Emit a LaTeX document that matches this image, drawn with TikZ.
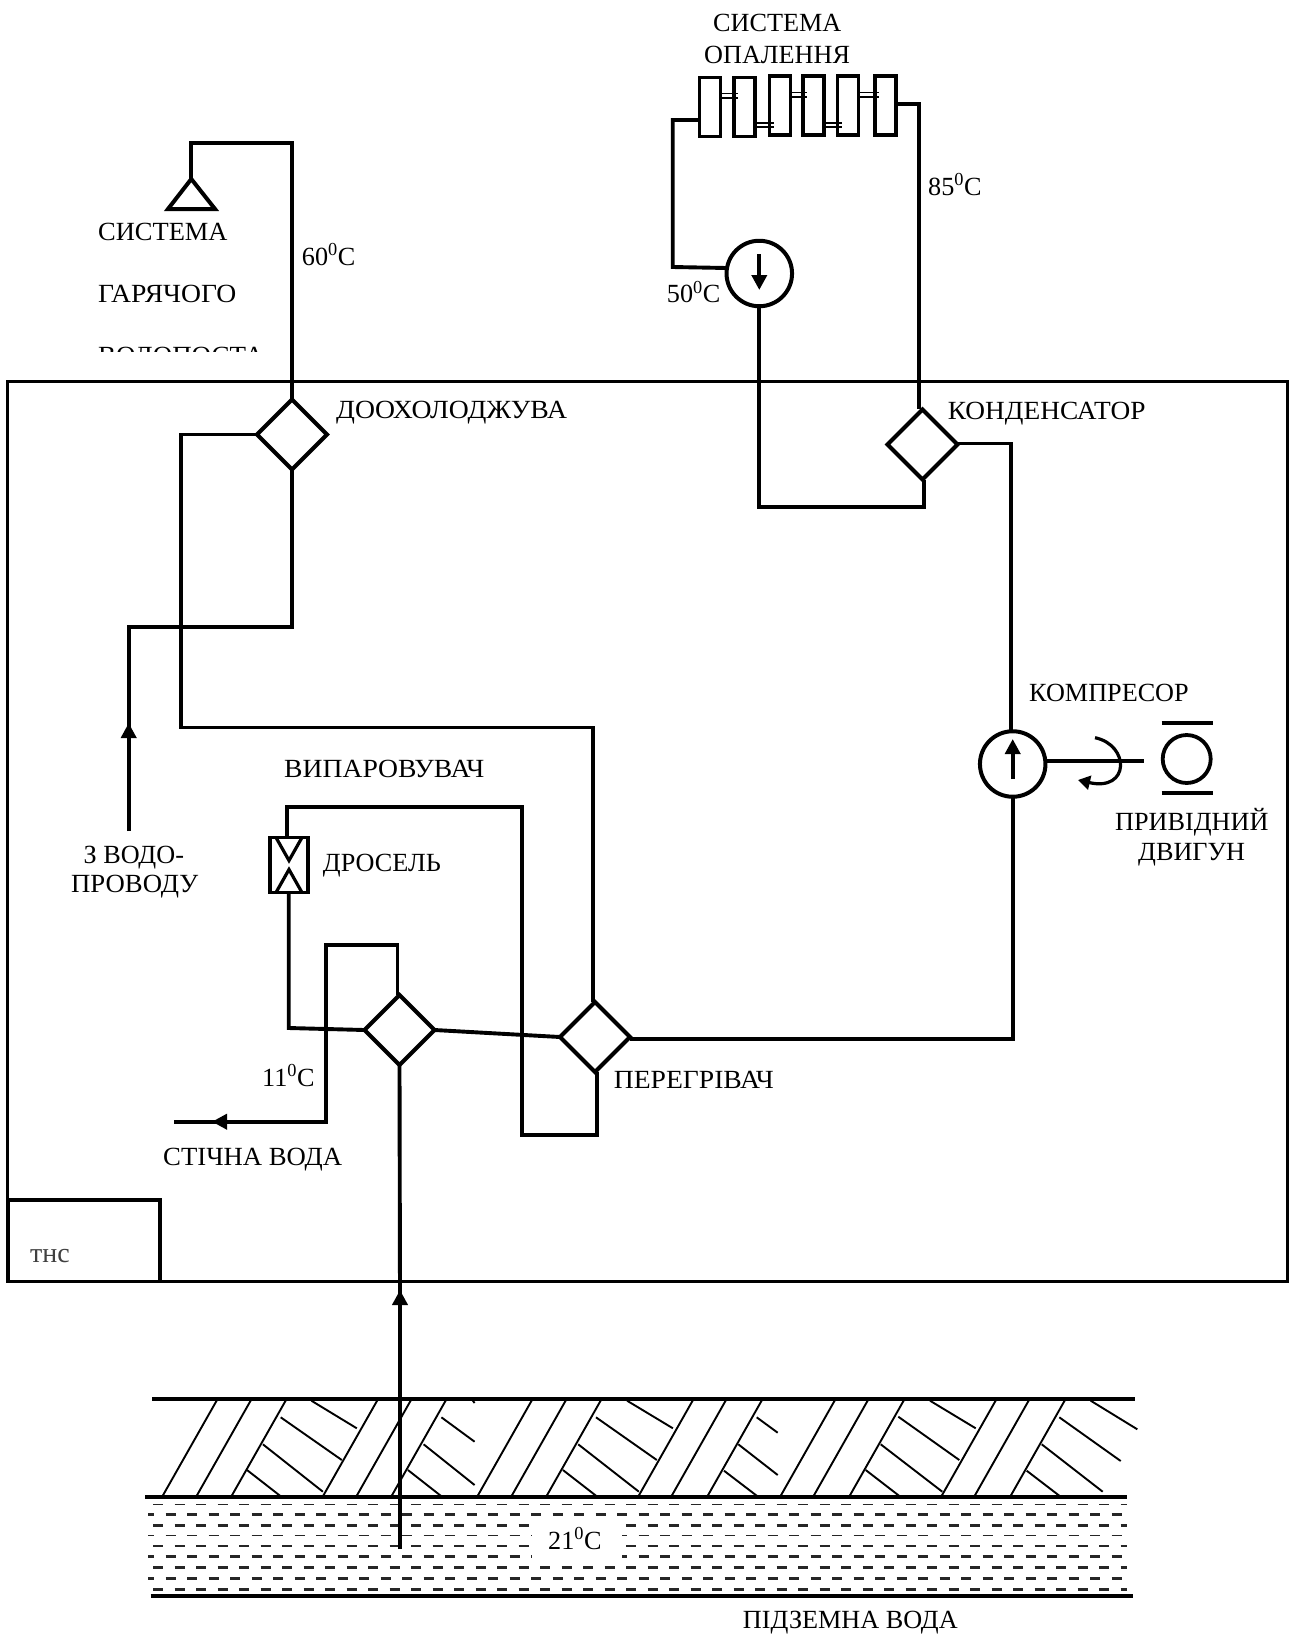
\documentclass[tikz,border=0pt]{standalone}
\usepackage{graphicx}
\usepackage{fontspec}
\setmainfont{Liberation Serif}
\usepackage{tikz}
\usetikzlibrary{shapes.geometric,arrows.meta,calc}

\newcommand{\widen}[2]{\scalebox{#1}[1]{#2}}

\begin{document}
\begin{tikzpicture}[
    x=1pt, y=-1pt,
    every node/.style={font=\fontsize{26.2}{30}\selectfont},
    lbl/.style={inner sep=0pt, anchor=base west},
    pipe/.style={line width=3.9pt},
    thinpipe/.style={line width=3.2pt},
    arr/.style={line width=3.9pt, -{Triangle[length=15pt,width=15pt]}},
    hx/.style={draw, diamond, line width=4.2pt, minimum width=70pt,
               minimum height=70pt, inner sep=0pt, outer sep=0pt},
    pump/.style={draw, circle, line width=4pt, minimum size=65.5pt,
                 inner sep=0pt, outer sep=0pt},
    radbox/.style={draw, line width=3.9pt, minimum width=21pt,
                   minimum height=59pt, inner sep=0pt, outer sep=0pt},
    tie/.style={line width=1.6pt, shorten >=-4pt},
    hatchline/.style={line width=1.9pt},
  ]
  \useasboundingbox (0,0) rectangle (1292,1636);

  % Frame
  \node[draw, line width=3pt, inner sep=0pt, outer sep=0pt, minimum width=1280pt,
        minimum height=900pt] (frame) at (647.8,831.5) {};
  \node[draw, line width=3.6pt, inner sep=0pt, outer sep=0pt, minimum width=152pt,
        minimum height=81.5pt] (thsbox) at (84,1240.8) {};
  \node[lbl, font=\fontsize{28}{30}\selectfont, text=black!75] (ths) at (30,1262.7) {тнс};

  % Radiators
  \foreach \i/\x/\y in {1/710/107, 2/744.3/107, 3/780/105.5, 4/813.3/105.5,
                        5/848/105.5, 6/885.5/105.5} {
    \node[radbox] (r\i) at (\x,\y) {};
  }
  \foreach \a/\b/\y in {1/2/95.5, 2/3/125, 3/4/94.5, 4/5/125, 5/6/94.5} {
    \foreach \d in {-2.2,2.2} {
      \pgfmathsetmacro{\yy}{\y+\d}
      \draw[tie] (r\a.east |- 0,\yy) -- (r\b.west |- 0,\yy);
    }
  }

  % Exchangers
  \node[hx] (cool) at (292,434.5) {};
  \node[hx] (cond) at (922.5,444.5) {};
  \node[hx] (evap) at (399.5,1030) {};
  \node[hx] (heat) at (595,1037) {};

  % Pumps
  \node[pump] (circ) at (759.3,273.5) {};
  \node[pump] (comp) at (1012.7,764) {};
  \node[draw, circle, line width=3.8pt, minimum size=48pt, inner sep=0pt,
        outer sep=0pt] (motor) at (1186.7,759) {};
  \node[draw, line width=3.8pt, minimum width=38pt, minimum height=55pt,
        inner sep=0pt, outer sep=0pt] (thr) at (289,865) {};

  % Free ends
  \coordinate (shower) at (191.3,179);
  \coordinate (ground) at (400,1549);
  \coordinate (supply) at (128.7,831);
  \coordinate (drain) at (174,1121.7);

  % Symbols
  \draw[line width=4pt] (shower) -- (168,209) -- (215,209) -- cycle;
  \draw[arr] (circ.center) ++(0,-19.5) -- ++(0,36);
  \draw[arr] (comp.center) ++(0,15) -- ++(0,-40);
  \draw[thinpipe] ([xshift=-13pt]thr.north) -- ([yshift=-23pt]thr.north)
    -- ([xshift=13pt]thr.north);
  \draw[thinpipe] ([xshift=-13pt]thr.south) -- ([yshift=23pt]thr.south)
    -- ([xshift=13pt]thr.south);
  \draw[thinpipe] (comp.east |- 0,761) -- (1144,761);
  \draw[thinpipe, -{Triangle[length=12pt,width=14pt]}] (1095,737.7)
    .. controls (1130,745) and (1130,792) .. (1078,780);
  \draw[pipe] (1161.7,723.3) -- (1213,723.3);
  \draw[pipe] (1161.7,793.3) -- (1213,793.3);

  % Heating loop
  \draw[pipe] (r1.west |- 0,120) -- (672.7,120) -- (672.7,267) -- (circ.west |- 0,268);
  \draw[pipe] (r6.east |- 0,104) -- (919.3,104) -- (919.3,409);
  \draw[pipe] (circ.south) -- (759.3,507) -- (924,507) -- (924,480);

  % Hot water loop
  \draw[pipe] (cool.north) -- (292,142.7) -- (191.3,142.7) -- (shower);
  \draw[pipe] (cool.west) -- (180.7,434.5) -- (180.7,727.5) -- (592.8,727.5)
    -- (592.8,1002);
  \draw[pipe] (cool.south) -- (292,627) -- (128.7,627) -- (128.7,732);
  \draw[arr] (supply) -- (128.7,723);

  % Refrigerant
  \draw[pipe] (cond.east |- 0,443.5) -- (1011,443.5) -- (comp.north -| 1011,0);
  \draw[pipe] (comp.south) -- (1012.7,1039) -- (heat.east |- 0,1039);
  \draw[pipe] (heat.west) -- (evap.east);
  \draw[pipe] (evap.west) -- (288.7,1028) -- (thr.south -| 288.7,0);
  \draw[pipe] (thr.north -| 287,0) -- (287,807) -- (521.7,807) -- (521.7,1135)
    -- (597,1135) -- (597,1072);

  % Waste water
  \draw[pipe] (evap.north -| 397.5,0) -- (397.5,945) -- (326,945) -- (326,1121.7) -- (drain);
  \draw[arr] (326,1121.7) -- (212,1121.7);
  \draw[arr] (ground) -- (400,1290);
  \draw[pipe] (400,1299) -- (evap.south);

  % Ground
  \foreach \t in {217,251,286,377.5,411,446,532,566,601,693,726,762,835,868,904,996,1029,1065} {
    \draw[hatchline] (\t,1400) -- ($(\t,1400)+(-55,97)$);
  }
  \foreach \xa/\ya/\xb/\yb in {
    247/1470/280/1495.7, 262.9/1444.3/322.9/1491.7, 280.7/1417.3/341.8/1460, 311.4/1400.7/356.8/1428.3,
    407.9/1470/440.7/1495.7, 423.6/1444.3/474.6/1485, 441.4/1417.3/474.6/1441.7, 472.9/1400.7/474.6/1403,
    562.9/1470/596/1495.7, 578.2/1444.3/638.9/1491.7, 596/1417.3/656.8/1460, 627.1/1400.7/672.9/1428.3,
    724/1470.7/756.7/1495.7, 738.3/1444.3/777.7/1475, 756.7/1417.3/777.7/1432.7,
    865.7/1470/899/1495.7, 880.7/1444.3/942.3/1491.7, 898.3/1416.7/959.3/1460, 930/1400.7/975.7/1428.3,
    1026.7/1470.7/1059.3/1495.7, 1041.7/1444.3/1102.7/1491.7, 1059.3/1417.3/1120.7/1461, 1090.7/1400.7/1137.3/1429.3%
  } {
    \draw[hatchline] (\xa,\ya) -- (\xb,\yb);
  }
  \draw[line width=4pt] (152,1399) -- (1135,1399);
  \draw[line width=4pt] (145,1497.3) -- (1127,1497.3);
  \draw[line width=4pt] (150.7,1595.7) -- (1132.7,1595.7);

  % Water
  \foreach \y/\w/\c/\st/\ph in {
    1504.3/1/black!85/153.2/0, 1514.7/2.7/black!85/148/4,
    1525.3/2.7/black!85/153.2/0, 1535.7/1/black!85/148/4,
    1546/2.7/black!85/153.2/0, 1556.7/2.7/black!85/148/4,
    1567.7/2.7/black!85/153.2/0, 1578.7/2.7/black!85/148/4,
    1589.3/2.7/black!85/153.2/0%
  } {
    \draw[line width=\w pt, color=\c, dash pattern=on 10pt off 11.5pt, dash phase=\ph pt]
      (\st,\y) -- (1127,\y);
  }
  \draw[pipe] (400,1500) -- (ground);
  \node[fill=white, inner sep=0pt, minimum width=90pt, minimum height=40pt] (temp21) at (577,1541) {};
  \node[lbl] (t21) at (548,1549) {21\textsuperscript{0}C};

  % Labels
  \node[lbl] (heatA) at (713,31.7) {СИСТЕМА};
  \node[lbl] (heatB) at (704,63.3) {ОПАЛЕННЯ};
  \node[lbl] (t85) at (928,195) {85\textsuperscript{0}C};
  \node[lbl] (t50) at (666.7,302.7) {50\textsuperscript{0}C};
  \node[lbl] (t60) at (301.7,265) {60\textsuperscript{0}C};
  \node[lbl] (t11) at (262,1086) {11\textsuperscript{0}C};
  \node[lbl] (hotA) at (98,240.7) {\widen{1.01}{СИСТЕМА}};
  \node[lbl] (hotB) at (98,302.7) {\widen{1.055}{ГАРЯЧОГО}};
  \begin{scope}
    \clip (90,340) rectangle (290,351.7);
    \node[lbl] (hotC) at (98,364.7) {\widen{1.03}{ВОДОПОСТА}};
  \end{scope}
  \node[lbl] (lcool) at (336,418) {\widen{1.057}{ДООХОЛОДЖУВА}};
  \node[lbl] (lcond) at (947.6,419) {\widen{1.044}{КОНДЕНСАТОР}};
  \node[lbl] (lcomp) at (1029,701.7) {КОМПРЕСОР};
  \node[lbl] (motA) at (1115,830) {ПРИВІДНИЙ};
  \node[lbl] (motB) at (1138,860) {ДВИГУН};
  \node[lbl] (levap) at (284,777.5) {\widen{1.055}{ВИПАРОВУВАЧ}};
  \node[lbl] (lthr) at (322.7,871.7) {ДРОСЕЛЬ};
  \node[lbl] (supA) at (83.5,863) {З ВОДО-};
  \node[lbl] (supB) at (71,892) {\widen{1.02}{ПРОВОДУ}};
  \node[lbl] (ldrain) at (163,1165) {\widen{1.02}{СТІЧНА ВОДА}};
  \node[lbl] (lheat) at (613.6,1088) {\widen{1.055}{ПЕРЕГРІВАЧ}};
  \node[lbl] (lground) at (742.7,1628.3) {ПІДЗЕМНА ВОДА};
\end{tikzpicture}
\end{document}
